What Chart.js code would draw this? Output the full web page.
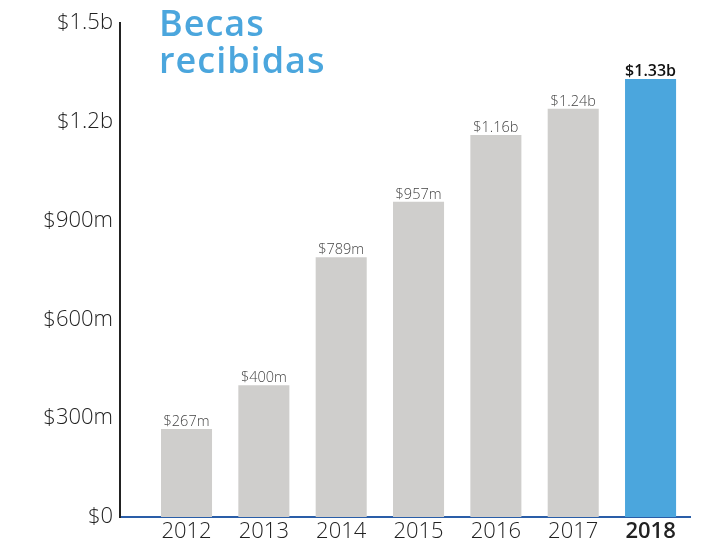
<!DOCTYPE html>
<html>
<head>
<meta charset="utf-8">
<script src="https://cdn.jsdelivr.net/npm/chart.js@4/dist/chart.umd.min.js"></script>
<style>
  html, body { margin: 0; padding: 0; background: #fff; }
  #wrap { position: relative; width: 703px; height: 541px; }
  #title {
    position: absolute; left: 159px; top: 4px;
    font-family: "Open Sans", sans-serif; font-weight: 600;
    font-size: 36px; line-height: 37px; letter-spacing: 1px; color: #4ba6dd;
  }
</style>
</head>
<body>
<div id="wrap">
  <canvas id="myChart" width="703" height="541"></canvas>
  <div id="title">Becas<br>recibidas</div>
</div>
<script>
const years = [2012, 2013, 2014, 2015, 2016, 2017, 2018];
const amounts = [267e6, 400e6, 789e6, 957e6, 1.16e9, 1.24e9, 1.33e9];
const amountLabels = ['$267m', '$400m', '$789m', '$957m', '$1.16b', '$1.24b', '$1.33b'];
const yTicks = [0, 300e6, 600e6, 900e6, 1.2e9, 1.5e9];
const yTickLabels = ['$0', '$300m', '$600m', '$900m', '$1.2b', '$1.5b'];
const highlightYear = 2018;

const ctx = document.getElementById('myChart').getContext('2d');

const valueLabels = {
    id: 'valueLabels',
    afterDatasetsDraw(chart) {
        const c = chart.ctx;
        const meta = chart.getDatasetMeta(0);
        c.save();
        c.textAlign = 'center';
        c.textBaseline = 'bottom';
        meta.data.forEach((bar, i) => {
            const hi = years[i] === highlightYear;
            c.font = hi ? '600 16px "Open Sans"' : '300 14.5px "Open Sans"';
            c.fillStyle = hi ? '#111' : '#444';
            c.fillText(amountLabels[i], bar.x, bar.y);
        });
        c.restore();
    }
};

new Chart(ctx, {
    type: 'bar',
    data: {
        datasets: [{
            data: years.map((y, i) => ({ x: y, y: amounts[i] })),
            backgroundColor: years.map(y => y === highlightYear ? '#4ba6dd' : '#cfcecc'),
            borderWidth: 0,
            barPercentage: 0.66,
            categoryPercentage: 1
        }]
    },
    options: {
        responsive: false,
        animation: false,
        layout: { padding: { top: 23, right: 13, left: 0, bottom: 0 } },
        plugins: { legend: { display: false }, tooltip: { enabled: false } },
        scales: {
            x: {
                type: 'linear',
                offset: false,
                min: 2011.14,
                max: 2018.51,
                grid: { display: false, drawTicks: false },
                border: { color: '#2a5ea8', width: 2 },
                afterBuildTicks(scale) {
                    scale.ticks = years.map(v => ({ value: v }));
                },
                afterFit(scale) { scale.height = 24; },
                ticks: {
                    padding: 2,
                    color: '#222',
                    callback: v => String(v),
                    font: c => c.tick && c.tick.value === highlightYear
                        ? { family: 'Open Sans', size: 22, weight: '600' }
                        : { family: 'Open Sans', size: 22, weight: '300' }
                }
            },
            y: {
                min: 0,
                max: 1.5e9,
                grid: { display: false, drawTicks: false },
                border: { color: '#222', width: 2 },
                afterBuildTicks(scale) {
                    scale.ticks = yTicks.map(v => ({ value: v }));
                },
                afterFit(scale) { scale.width = 120; },
                ticks: {
                    padding: 7,
                    color: '#222',
                    font: { family: 'Open Sans', size: 22, weight: '300' },
                    callback: (v) => yTickLabels[yTicks.indexOf(v)]
                }
            }
        }
    },
    plugins: [valueLabels]
});
</script>
</body>
</html>
